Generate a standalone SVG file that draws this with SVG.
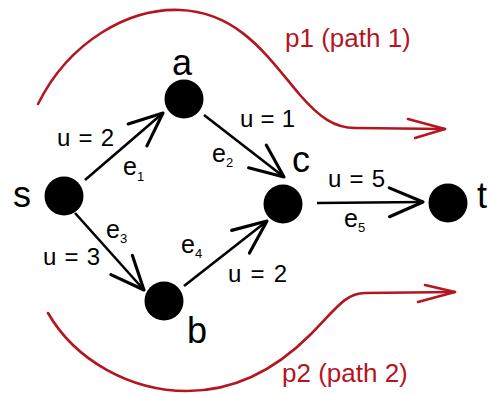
<svg xmlns="http://www.w3.org/2000/svg" width="488" height="394" viewBox="0 0 488 394">
<defs>
<style>
.node{fill:#000}
.nl{font-family:"Liberation Sans",Arial,sans-serif;font-size:36px;fill:#000}
.el{font-family:"Liberation Sans",Arial,sans-serif;font-size:24px;fill:#000}
.ee{font-family:"Liberation Sans",Arial,sans-serif;font-size:25px;fill:#000}
.sub{font-size:13px}
.edge{stroke:#000;stroke-width:2.6;fill:none;marker-end:url(#ah)}
.red{stroke:#b4151f;stroke-width:2.6;fill:none;stroke-linecap:round;stroke-linejoin:round}
.rt{font-family:"Liberation Sans",Arial,sans-serif;font-size:26px;fill:#b4151f}
</style>
<marker id="ah" markerUnits="userSpaceOnUse" orient="auto" refX="0" refY="0" markerWidth="60" markerHeight="60" viewBox="-40 -20 50 40" style="overflow:visible">
<path d="M-28,-12 L0,0 L-28,12" fill="none" stroke="#000" stroke-width="2.6" stroke-linejoin="round" stroke-linecap="round"/>
</marker>
</defs>
<g id="paths">
<path class="red" d="M38,104 C70,40 130,8 180,10 C240,12 270,60 300,95 C320,118 335,128 355,128 L445,129"/>
<path class="red" d="M408,119 L445,129 L415,138"/>
<text class="rt" x="285" y="47">p1 (path 1)</text>
<path class="red" d="M48,313 C75,360 130,391 187,391 C240,391 280,365 310,335 C335,310 345,293 365,293 L455,292"/>
<path class="red" d="M425,285 L455,292 L418,302"/>
<text class="rt" x="282" y="382">p2 (path 2)</text>
</g>
<g id="connectors">
<line class="edge" x1="85" y1="180" x2="163" y2="113"/>
<line class="edge" x1="204" y1="115" x2="284" y2="177"/>
<line class="edge" x1="75" y1="213" x2="144" y2="290"/>
<line class="edge" x1="184" y1="286" x2="267" y2="221"/>
<line class="edge" x1="317" y1="203" x2="423" y2="202"/>
<text class="el" x="57" y="146" textLength="57">u = 2</text>
<text class="ee" x="123" y="175">e<tspan class="sub" dy="6">1</tspan></text>
<text class="el" x="240" y="127" textLength="55">u = 1</text>
<text class="ee" x="212" y="162">e<tspan class="sub" dy="5">2</tspan></text>
<text class="el" x="328" y="187" textLength="57">u = 5</text>
<text class="ee" x="344" y="227">e<tspan class="sub" dy="5">5</tspan></text>
<text class="ee" x="106" y="238">e<tspan class="sub" dy="5">3</tspan></text>
<text class="el" x="43" y="265" textLength="57">u = 3</text>
<text class="ee" x="181" y="253">e<tspan class="sub" dy="5">4</tspan></text>
<text class="el" x="228" y="282" textLength="59">u = 2</text>
</g>
<g id="node-s"><circle class="node" cx="64" cy="196" r="19.5"/><text class="nl" x="13" y="207">s</text></g>
<g id="node-a"><circle class="node" cx="184" cy="99" r="19.5"/><text class="nl" x="172" y="75">a</text></g>
<g id="node-c"><circle class="node" cx="283" cy="204" r="19.5"/><text class="nl" x="292" y="172">c</text></g>
<g id="node-b"><circle class="node" cx="164" cy="301" r="19.5"/><text class="nl" x="187" y="343">b</text></g>
<g id="node-t"><circle class="node" cx="448" cy="203" r="19.5"/><text class="nl" x="477" y="208">t</text></g>
</svg>
